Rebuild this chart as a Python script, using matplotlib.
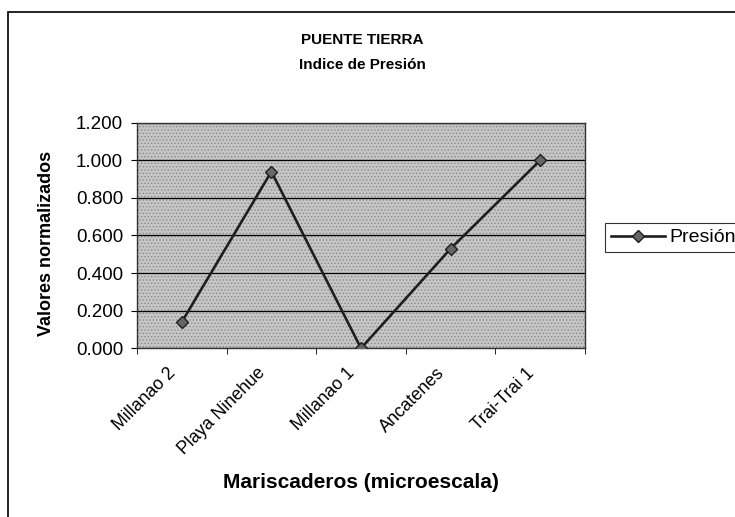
import matplotlib
matplotlib.use("Agg")
import matplotlib.pyplot as plt
from matplotlib.patches import Rectangle
import matplotlib.transforms as mtransforms
import numpy as np

categories = ["Millanao 2", "Playa Ninehue", "Millanao 1", "Ancatenes", "Trai-Trai 1"]
presion = [0.14, 0.94, 0.0, 0.53, 1.0]
yticks = [0.0, 0.2, 0.4, 0.6, 0.8, 1.0, 1.2]
ytick_labels = ["0.000", "0.200", "0.400", "0.600", "0.800", "1.000", "1.200"]

plt.rcParams['font.family'] = ['Liberation Sans', 'DejaVu Sans']
plt.rcParams['hatch.color'] = '#8a8a8a'
plt.rcParams['hatch.linewidth'] = 0.6

fig = plt.figure(figsize=(7.35, 5.17), dpi=100)
# outer chart frame
fig.patches.append(Rectangle((8/735, -0.01), 1.0, 1 - 12/517 + 0.01, transform=fig.transFigure,
                             fill=False, edgecolor='black', linewidth=1.2))

ax = fig.add_axes([137/735, 1 - 348.3/517, 448/735, (348.3 - 122.7)/517])
ax.set_facecolor('#c6c6c6')
ax.add_patch(Rectangle((0, 0), 1, 1, transform=ax.transAxes, facecolor='none',
                       hatch='.....', edgecolor='#8a8a8a', linewidth=0, zorder=0))
x = np.arange(len(categories))
ax.plot(x, presion, color='#1e1e1e', linewidth=1.9, marker='D', markersize=6,
        markerfacecolor='#666666', markeredgecolor='#1e1e1e', label='Presión', zorder=3)

ax.set_xlim(-0.5, len(categories) - 0.5)
ax.set_ylim(0, 1.2)
ax.set_yticks(yticks)
ax.set_yticklabels(ytick_labels, fontsize=13.5)
ax.yaxis.grid(True, color='black', linewidth=0.9)
ax.set_axisbelow(True)

ax.set_xticks(x)
ax.set_xticklabels(categories, rotation=45, ha='right', va='center', rotation_mode='anchor', fontsize=12.8)
ax.tick_params(axis='x', length=0, pad=16)
offset = mtransforms.ScaledTranslation(-9/100, 0/100, fig.dpi_scale_trans)
for lbl in ax.get_xticklabels():
    lbl.set_transform(lbl.get_transform() + offset)
ax.set_xticks(np.arange(len(categories) + 1) - 0.5, minor=True)
ax.tick_params(axis='x', which='minor', length=4, direction='out', color='black')
ax.tick_params(axis='y', length=4, direction='out', color='black', pad=6)
for s in ax.spines.values():
    s.set_color('#333333')
    s.set_linewidth(1.0)

fig.text(47/735, 1 - 243/517, 'Valores normalizados', rotation=90, ha='center', va='center',
         fontsize=13, fontweight='bold')
fig.text(361/735, 1 - 483/517, 'Mariscaderos (microescala)', ha='center', va='center',
         fontsize=15, fontweight='bold')
fig.text(362/735, 1 - 40/517, 'PUENTE TIERRA', ha='center', va='center', fontsize=11, fontweight='bold')
fig.text(362/735, 1 - 65/517, 'Indice de Presión', ha='center', va='center', fontsize=11, fontweight='bold')

leg = ax.legend(loc='upper left', bbox_to_anchor=(605/735, 1 - 223/517), bbox_transform=fig.transFigure,
                frameon=True, fancybox=False, fontsize=14, handlelength=2.8,
                borderpad=0.3, handletextpad=0.2, borderaxespad=0)
leg.get_frame().set_edgecolor('black')
leg.get_frame().set_linewidth(0.8)

fig.savefig('out.png', dpi=100)
